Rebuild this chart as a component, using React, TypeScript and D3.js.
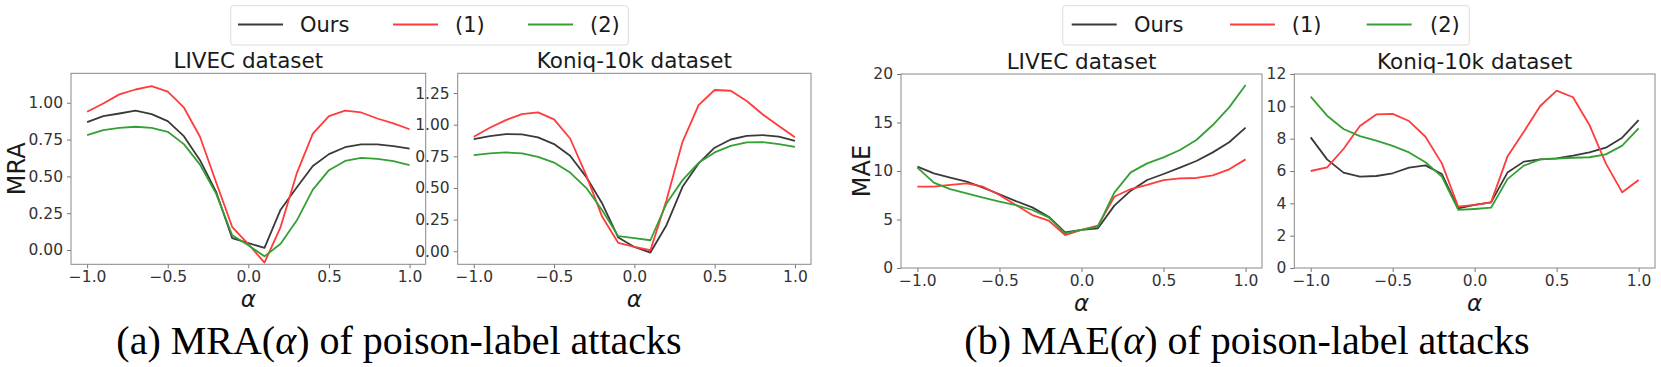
import React, { useEffect, useRef } from "react";
import * as d3 from "d3";

// alpha values (x axis)
const alphas = [-1.0, -0.9, -0.8, -0.7, -0.6, -0.5, -0.4, -0.3, -0.2, -0.1, 0.0, 0.1, 0.2, 0.3, 0.4, 0.5, 0.6, 0.7, 0.8, 0.9, 1.0];
const seriesNames = ["Ours", "(1)", "(2)"];
const seriesColors = ["#3a3a3a", "#ff3b3b", "#34a034"];

// (a) MRA - LIVEC
const mraLivecOurs = [0.868, 0.909, 0.927, 0.946, 0.923, 0.875, 0.773, 0.61, 0.395, 0.08, 0.047, 0.014, 0.274, 0.424, 0.571, 0.651, 0.698, 0.717, 0.717, 0.705, 0.689];
const mraLivec1 = [0.939, 0.995, 1.057, 1.09, 1.113, 1.075, 0.968, 0.769, 0.46, 0.156, 0.04, -0.086, 0.156, 0.52, 0.79, 0.909, 0.946, 0.934, 0.893, 0.86, 0.82];
const mraLivec2 = [0.78, 0.814, 0.83, 0.837, 0.83, 0.803, 0.719, 0.58, 0.383, 0.1, 0.032, -0.043, 0.043, 0.2, 0.41, 0.542, 0.605, 0.626, 0.619, 0.603, 0.576];

// (a) MRA - Koniq-10k
const mraKoniqOurs = [0.886, 0.91, 0.926, 0.923, 0.9, 0.847, 0.754, 0.588, 0.377, 0.108, 0.034, -0.01, 0.206, 0.509, 0.694, 0.818, 0.883, 0.912, 0.918, 0.905, 0.873];
const mraKoniq1 = [0.905, 0.976, 1.036, 1.084, 1.097, 1.042, 0.891, 0.601, 0.272, 0.066, 0.034, 0.008, 0.403, 0.865, 1.155, 1.274, 1.268, 1.187, 1.081, 0.989, 0.9];
const mraKoniq2 = [0.76, 0.773, 0.781, 0.773, 0.746, 0.701, 0.622, 0.501, 0.324, 0.119, 0.103, 0.087, 0.377, 0.562, 0.699, 0.781, 0.833, 0.86, 0.862, 0.847, 0.825];

// (b) MAE - LIVEC
const maeLivecOurs = [10.45, 9.76, 9.31, 8.9, 8.28, 7.6, 6.9, 6.25, 5.29, 3.68, 3.92, 4.09, 6.43, 7.97, 9.07, 9.69, 10.34, 11.03, 11.92, 12.96, 14.47];
const maeLivec1 = [8.38, 8.38, 8.56, 8.73, 8.38, 7.53, 6.5, 5.46, 4.88, 3.4, 3.92, 4.36, 7.35, 8.14, 8.56, 9.07, 9.24, 9.28, 9.55, 10.17, 11.2];
const maeLivec2 = [10.34, 8.8, 8.14, 7.7, 7.25, 6.84, 6.49, 5.98, 5.22, 3.57, 3.92, 4.26, 7.77, 9.86, 10.79, 11.41, 12.16, 13.2, 14.74, 16.56, 18.87];

// (b) MAE - Koniq-10k
const maeKoniqOurs = [8.08, 6.72, 5.9, 5.65, 5.69, 5.86, 6.21, 6.35, 5.81, 3.69, 3.9, 4.06, 5.9, 6.58, 6.72, 6.78, 6.95, 7.15, 7.44, 8.06, 9.15];
const maeKoniq1 = [6.0, 6.23, 7.36, 8.78, 9.5, 9.53, 9.09, 8.12, 6.47, 3.79, 3.9, 4.06, 6.89, 8.43, 10.02, 10.97, 10.56, 8.85, 6.47, 4.68, 5.44];
const maeKoniq2 = [10.6, 9.42, 8.6, 8.16, 7.88, 7.55, 7.15, 6.54, 5.65, 3.59, 3.65, 3.73, 5.5, 6.33, 6.72, 6.76, 6.82, 6.85, 7.03, 7.57, 8.64];

const xTicks = [-1.0, -0.5, 0.0, 0.5, 1.0];
const mraLivecTicks = [0, 0.25, 0.5, 0.75, 1.0];
const mraKoniqTicks = [0, 0.25, 0.5, 0.75, 1.0, 1.25];
const maeLivecTicks = [0, 5, 10, 15, 20];
const maeKoniqTicks = [0, 2, 4, 6, 8, 10, 12];

const captions = ["(a) MRA(", "(b) MAE("];

const W = 1661;
const H = 367;
const SANS = "DejaVu Sans, sans-serif";
const SERIF = "Liberation Serif, Times New Roman, serif";

const panels = [
  { title: "LIVEC dataset", ylabel: "MRA", box: [71, 73.3, 425.7, 264.3], yDomain: [-0.097, 1.2], yTicks: mraLivecTicks, fmt: ".2f", series: [mraLivecOurs, mraLivec1, mraLivec2] },
  { title: "Koniq-10k dataset", ylabel: null, box: [457.7, 73.3, 811, 264.3], yDomain: [-0.103, 1.406], yTicks: mraKoniqTicks, fmt: ".2f", series: [mraKoniqOurs, mraKoniq1, mraKoniq2] },
  { title: "LIVEC dataset", ylabel: "MAE", box: [901, 74, 1262, 268], yDomain: [0, 20], yTicks: maeLivecTicks, fmt: "d", series: [maeLivecOurs, maeLivec1, maeLivec2] },
  { title: "Koniq-10k dataset", ylabel: null, box: [1294.3, 74, 1655, 268], yDomain: [0, 12], yTicks: maeKoniqTicks, fmt: "d", series: [maeKoniqOurs, maeKoniq1, maeKoniq2] },
];

const legends = [
  { x: 230.7, y: 5.7, w: 397.6, lines: [238, 393, 528], texts: [300, 455, 590] },
  { x: 1062.7, y: 5.7, w: 406.6, lines: [1071.7, 1230, 1366.7], texts: [1134, 1291.7, 1430] },
];

const App = () => {
  const ref = useRef<SVGSVGElement>(null);

  useEffect(() => {
    const svg = d3.select(ref.current);
    svg.selectAll("*").remove();
    svg.append("rect").attr("width", W).attr("height", H).attr("fill", "#fff");

    panels.forEach((p) => {
      const [x0, y0, x1, y1] = p.box;
      const x = d3.scaleLinear().domain([-1.1, 1.1]).range([x0, x1]);
      const y = d3.scaleLinear().domain(p.yDomain).range([y1, y0]);
      const g = svg.append("g");

      const xAxis = g
        .append("g")
        .attr("transform", `translate(0,${y1})`)
        .call(d3.axisBottom(x).tickValues(xTicks).tickFormat(d3.format(".1f")).tickSize(4).tickPadding(3).tickSizeOuter(0));
      const yAxis = g
        .append("g")
        .attr("transform", `translate(${x0},0)`)
        .call(d3.axisLeft(y).tickValues(p.yTicks).tickFormat(d3.format(p.fmt)).tickSize(4).tickPadding(4).tickSizeOuter(0));
      [xAxis, yAxis].forEach((a) => {
        a.select(".domain").remove();
        a.selectAll(".tick line").attr("stroke", "#777");
        a.selectAll(".tick text").attr("fill", "#333").style("font-family", SANS).style("font-size", "15.5px");
      });

      const clipId = `clip-${x0}`;
      g.append("clipPath").attr("id", clipId).append("rect").attr("x", x0).attr("y", y0).attr("width", x1 - x0).attr("height", y1 - y0);

      const line = d3
        .line<number>()
        .x((_, i) => x(alphas[i]))
        .y((d) => y(d));

      p.series.forEach((s, i) => {
        g.append("path")
          .datum(s)
          .attr("d", line)
          .attr("fill", "none")
          .attr("stroke", seriesColors[i])
          .attr("stroke-width", 1.8)
          .attr("stroke-linejoin", "round")
          .attr("clip-path", `url(#${clipId})`);
      });

      g.append("rect")
        .attr("x", x0)
        .attr("y", y0)
        .attr("width", x1 - x0)
        .attr("height", y1 - y0)
        .attr("fill", "none")
        .attr("stroke", "#888")
        .attr("stroke-width", 1);

      g.append("text")
        .attr("x", (x0 + x1) / 2)
        .attr("y", y0 - 5)
        .attr("text-anchor", "middle")
        .attr("fill", "#1a1a1a")
        .style("font-family", SANS)
        .style("font-size", "21.5px")
        .text(p.title);

      g.append("text")
        .attr("x", (x0 + x1) / 2)
        .attr("y", y1 + 43)
        .attr("text-anchor", "middle")
        .attr("fill", "#1a1a1a")
        .style("font-family", SANS)
        .style("font-style", "italic")
        .style("font-size", "23px")
        .text("α");

      if (p.ylabel) {
        const lx = p.ylabel === "MRA" ? 16.7 : 861.7;
        g.append("text")
          .attr("transform", `translate(${lx},${(y0 + y1) / 2}) rotate(-90)`)
          .attr("text-anchor", "middle")
          .attr("dominant-baseline", "central")
          .attr("fill", "#1a1a1a")
          .style("font-family", SANS)
          .style("font-size", "24px")
          .text(p.ylabel);
      }
    });

    legends.forEach((l) => {
      const g = svg.append("g");
      g.append("rect")
        .attr("x", l.x)
        .attr("y", l.y)
        .attr("width", l.w)
        .attr("height", 39.3)
        .attr("rx", 3)
        .attr("fill", "#fff")
        .attr("stroke", "#ddd");
      seriesNames.forEach((name, i) => {
        g.append("line")
          .attr("x1", l.lines[i])
          .attr("x2", l.lines[i] + 45)
          .attr("y1", 24.5)
          .attr("y2", 24.5)
          .attr("stroke", seriesColors[i])
          .attr("stroke-width", 1.8);
        g.append("text")
          .attr("x", l.texts[i])
          .attr("y", 24.5)
          .attr("dominant-baseline", "central")
          .attr("fill", "#1a1a1a")
          .style("font-family", SANS)
          .style("font-size", "21px")
          .text(name);
      });
    });

    const capCenters = [399, 1247];
    captions.forEach((c, i) => {
      const t = svg
        .append("text")
        .attr("x", capCenters[i])
        .attr("y", 354)
        .attr("text-anchor", "middle")
        .attr("fill", "#000")
        .style("font-family", SERIF)
        .style("font-size", "40px");
      t.append("tspan").text(c);
      t.append("tspan").style("font-style", "italic").text("α");
      t.append("tspan").text(") of poison-label attacks");
    });
  }, []);

  return (
    <svg
      ref={ref}
      width={W}
      height={H}
      style={{ position: "absolute", left: 0, top: 0, display: "block" }}
    />
  );
};

export default App;
